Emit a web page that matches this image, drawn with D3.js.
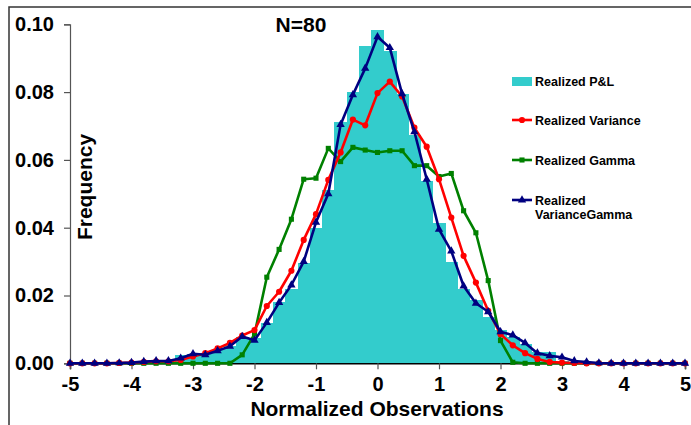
<!DOCTYPE html>
<html>
<head>
<meta charset="utf-8">
<script src="https://cdn.jsdelivr.net/npm/d3@7"></script>
<style>
  html, body { margin: 0; padding: 0; background: #fff; }
  svg { display: block; font-family: "Liberation Sans", Arial, sans-serif; font-weight: bold; }
</style>
</head>
<body>
<svg id="chart" width="691" height="425"></svg>
<script>
// Bin centres (normalized observations)
const bins = [-5.0,-4.8,-4.6,-4.4,-4.2,-4.0,-3.8,-3.6,-3.4,-3.2,-3.0,-2.8,-2.6,-2.4,-2.2,-2.0,-1.8,-1.6,-1.4,-1.2,-1.0,-0.8,-0.6,-0.4,-0.2,0.0,0.2,0.4,0.6,0.8,1.0,1.2,1.4,1.6,1.8,2.0,2.2,2.4,2.6,2.8,3.0,3.2,3.4,3.6,3.8,4.0,4.2,4.4,4.6,4.8,5.0];

// Realized P&L histogram frequencies
const pnl = [0,0,0,0,0,0,0,0,0.0003,0.0025,0.0027,0.0027,0.0040,0.0050,0.0079,0.0074,0.0118,0.0180,0.0218,0.0297,0.0398,0.0511,0.0713,0.0801,0.0936,0.0983,0.0921,0.0794,0.0673,0.0539,0.0413,0.0300,0.0219,0.0187,0.0137,0.0098,0.0079,0.0057,0.0034,0.0034,0.0008,0.0003,0,0,0,0,0,0,0,0,0];

// Realized Variance
const variance = [0,0,0,0,0.0001,0.0002,0.0004,0.0006,0.0006,0.0010,0.0020,0.0030,0.0044,0.0060,0.0082,0.0098,0.0169,0.0211,0.0273,0.0364,0.0440,0.0541,0.0622,0.0719,0.0702,0.0797,0.0831,0.0787,0.0695,0.0639,0.0543,0.0430,0.0317,0.0238,0.0155,0.0086,0.0053,0.0030,0.0013,0.0004,0.0002,0.0001,0,0,0,0,0,0,0,0,0];

// Realized Gamma
const gamma = [0,0,0,0,0,0,0,0,0,0,0,0,0,0,0.0025,0.0086,0.0254,0.0336,0.0425,0.0543,0.0546,0.0634,0.0595,0.0637,0.0629,0.0622,0.0627,0.0627,0.0583,0.0583,0.0551,0.0560,0.0450,0.0385,0.0244,0.0067,0.0003,0,0,0,0,0,0,0,0,0,0,0,0,0,0];

// Realized VarianceGamma
const varianceGamma = [0,0,0,0,0.0001,0.0002,0.0005,0.0007,0.0007,0.0015,0.0028,0.0025,0.0037,0.0050,0.0079,0.0068,0.0120,0.0179,0.0231,0.0300,0.0416,0.0500,0.0704,0.0792,0.0870,0.0963,0.0931,0.0795,0.0683,0.0543,0.0395,0.0331,0.0228,0.0177,0.0152,0.0093,0.0083,0.0060,0.0030,0.0022,0.0018,0.0007,0.0004,0.0001,0,0,0,0,0,0,0];

const xTicks = [-5,-4,-3,-2,-1,0,1,2,3,4,5];
const yTicks = [0,0.02,0.04,0.06,0.08,0.10];

const svg = d3.select("#chart");

// Outer frame
svg.append("rect")
  .attr("x", 9).attr("y", 7).attr("width", 720).attr("height", 500)
  .attr("fill", "none").attr("stroke", "#333").attr("stroke-width", 1.5);

const x = d3.scaleLinear().domain([-5, 5]).range([70, 685]);
const y = d3.scaleLinear().domain([0, 0.1]).range([363.3, 24.3]);
const binW = x(0.2) - x(0);

// Histogram bars (adjacent, no gaps)
svg.append("g")
  .attr("shape-rendering", "crispEdges")
  .selectAll("rect")
  .data(bins.map((b, i) => ({ b, v: pnl[i] })).filter(d => d.v > 0))
  .join("rect")
  .attr("x", d => x(d.b) - binW / 2)
  .attr("width", binW + 0.6)
  .attr("y", d => y(d.v))
  .attr("height", d => y(0) - y(d.v))
  .attr("fill", "#33CCCC");

const fontFamily = "Liberation Sans, Arial, sans-serif";

// Y axis
const yAxis = svg.append("g")
  .attr("transform", "translate(70,0)")
  .call(d3.axisLeft(y).tickValues(yTicks).tickFormat(d => d.toFixed(2)).tickSize(6).tickPadding(10));
yAxis.select(".domain").attr("stroke", "#555").attr("stroke-width", 1.2);
yAxis.selectAll(".tick line").attr("stroke", "#555").attr("stroke-width", 1.2);
yAxis.selectAll("text")
  .attr("font-size", 20).attr("font-weight", "bold").attr("fill", "#000")
  .attr("font-family", fontFamily);

// X axis
const xAxis = svg.append("g")
  .attr("transform", `translate(0,${y(0)})`)
  .call(d3.axisBottom(x).tickValues(xTicks).tickFormat(d => String(d)).tickSize(6).tickPadding(8));
xAxis.select(".domain").attr("stroke", "#000").attr("stroke-width", 1.5);
xAxis.selectAll(".tick line").attr("stroke", "#555").attr("stroke-width", 1.2);
xAxis.selectAll("text")
  .attr("font-size", 20).attr("font-weight", "bold").attr("fill", "#000")
  .attr("font-family", fontFamily);

// Line series
const series = [
  { name: "Realized Gamma", values: gamma, color: "#008000", symbol: d3.symbolSquare, size: 26 },
  { name: "Realized Variance", values: variance, color: "#FF0000", symbol: d3.symbolCircle, size: 30 },
  { name: "Realized VarianceGamma", values: varianceGamma, color: "#000080", symbol: d3.symbolTriangle, size: 30 }
];

const line = d3.line().x(d => x(d[0])).y(d => y(d[1]));

series.forEach(s => {
  const pts = bins.map((b, i) => [b, s.values[i]]);
  svg.append("path")
    .datum(pts)
    .attr("d", line)
    .attr("fill", "none")
    .attr("stroke", s.color)
    .attr("stroke-width", 2.6)
    .attr("stroke-linejoin", "round");
  svg.append("g").selectAll("path")
    .data(pts)
    .join("path")
    .attr("transform", d => `translate(${x(d[0])},${y(d[1])})`)
    .attr("d", d3.symbol().type(s.symbol).size(s.size))
    .attr("fill", s.color);
});

// Title
svg.append("text")
  .attr("x", 301).attr("y", 32)
  .attr("text-anchor", "middle")
  .attr("font-size", 21)
  .text("N=80");

// Axis titles
svg.append("text")
  .attr("x", 377).attr("y", 416)
  .attr("text-anchor", "middle")
  .attr("font-size", 21)
  .text("Normalized Observations");

svg.append("text")
  .attr("transform", "translate(92,187) rotate(-90)")
  .attr("text-anchor", "middle")
  .attr("font-size", 21)
  .text("Frequency");

// Legend
const leg = svg.append("g").attr("font-size", 12.5);
leg.append("rect")
  .attr("x", 512).attr("y", 77).attr("width", 20).attr("height", 9)
  .attr("fill", "#33CCCC");
leg.append("text").attr("x", 535).attr("y", 86).text("Realized P&L");

const legendRows = [
  { s: series[1], y: 120, lines: ["Realized Variance"] },
  { s: series[0], y: 160, lines: ["Realized Gamma"] },
  { s: series[2], y: 200, lines: ["Realized", "VarianceGamma"] }
];
legendRows.forEach(r => {
  leg.append("line")
    .attr("x1", 512).attr("x2", 532).attr("y1", r.y).attr("y2", r.y)
    .attr("stroke", r.s.color).attr("stroke-width", 2.6);
  leg.append("path")
    .attr("transform", `translate(522,${r.y})`)
    .attr("d", d3.symbol().type(r.s.symbol).size(r.s.size))
    .attr("fill", r.s.color);
  r.lines.forEach((t, k) => {
    leg.append("text")
      .attr("x", 535)
      .attr("y", r.y + 4.5 + k * 14.5)
      .text(t);
  });
});
</script>
</body>
</html>
